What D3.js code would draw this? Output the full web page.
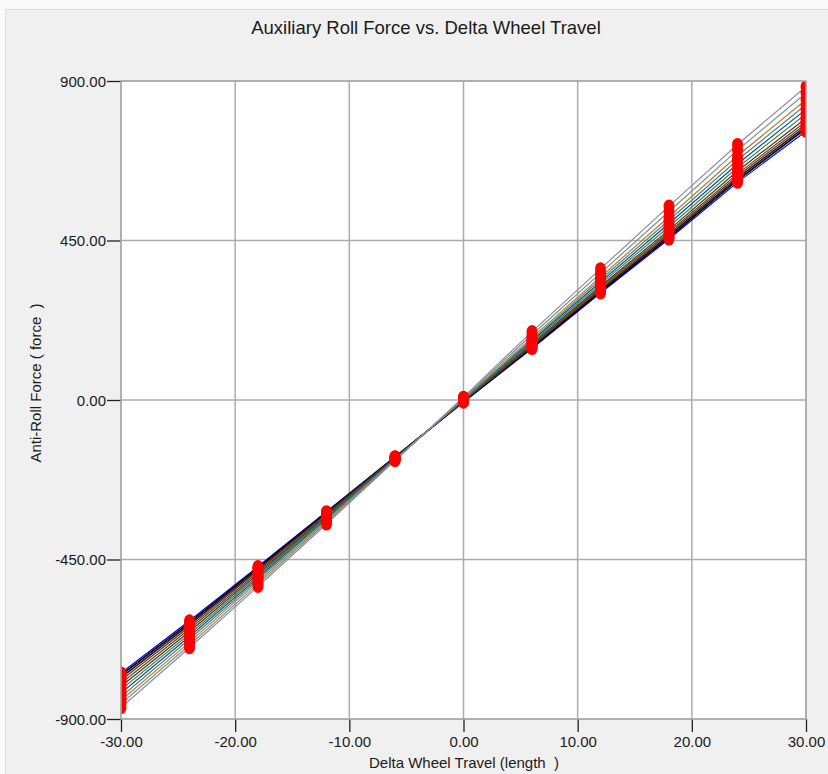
<!DOCTYPE html>
<html>
<head>
<meta charset="utf-8">
<script src="https://cdn.jsdelivr.net/npm/d3@7"></script>
<style>
  html, body { margin: 0; padding: 0; background: #fafafa; }
  svg { display: block; }
  text { font-family: "Liberation Sans", Arial, sans-serif; fill: #1a1a1a; white-space: pre; }
</style>
</head>
<body>
<svg id="chart" width="828" height="774"></svg>
<script>
// Wheel travel stations (length)
const travel = [-30, -24, -18, -12, -6, 0, 6, 12, 18, 24, 30];

// Anti-roll force (force) for each design variant, least stiff to stiffest
const force01 = [-770, -623, -470, -315, -160, -6, 145, 302, 454, 614, 758];
const force02 = [-776, -628, -473, -317, -161, -5, 148, 305, 459, 620, 766];
const force03 = [-783, -634, -477, -319, -162, -4, 150, 309, 464, 626, 772];
const force04 = [-791, -640, -481, -322, -163, -3, 153, 313, 469, 632, 779];
const force05 = [-799, -646, -486, -325, -164, -2, 156, 317, 474, 638, 786];
const force06 = [-808, -653, -491, -328, -165, -1, 159, 321, 480, 646, 795];
const force07 = [-817, -660, -496, -331, -166, 0, 163, 327, 489, 656, 807];
const force08 = [-827, -667, -501, -334, -167, 1, 167, 333, 498, 666, 820];
const force09 = [-837, -675, -506, -337, -168, 2, 171, 340, 507, 677, 833];
const force10 = [-847, -683, -512, -341, -169, 4, 176, 347, 517, 689, 847];
const force11 = [-857, -691, -519, -345, -170, 6, 184, 358, 532, 705, 866];
const force12 = [-868, -699, -526, -350, -171, 8, 193, 370, 547, 721, 884];

const allForces = [force01, force02, force03, force04, force05, force06,
                   force07, force08, force09, force10, force11, force12];

// Tick values
const xTicks = [-30, -20, -10, 0, 10, 20, 30];
const yTicks = [-900, -450, 0, 450, 900];

// Curve colours, one per variant
const palette = ["#0000ff", "#000000", "#1c1c1c", "#8b1c1c", "#1f5f2f", "#7a1a1a",
                 "#1f9a3a", "#1f3fa0", "#3c8c7c", "#d0702c", "#5f9e8e", "#9484ac"];

const svg = d3.select("#chart");
const W = 828, H = 774;
const plot = { left: 121, right: 806, top: 81, bottom: 719 };

// Window panel
svg.append("rect").attr("x", 5.5).attr("y", 9.5).attr("width", W - 5).attr("height", H - 9)
  .attr("fill", "#f0f0f0").attr("stroke", "#dcdcdc");

const x = d3.scaleLinear().domain([-30, 30]).range([plot.left, plot.right]);
const y = d3.scaleLinear().domain([-900, 900]).range([plot.bottom, plot.top]);

// Plot area
svg.append("rect").attr("x", plot.left).attr("y", plot.top)
  .attr("width", plot.right - plot.left).attr("height", plot.bottom - plot.top)
  .attr("fill", "#ffffff");

// Grid
const grid = svg.append("g").attr("stroke", "#ababab").attr("stroke-width", 1.5);
grid.selectAll("line.vx").data(xTicks).join("line")
  .attr("x1", d => x(d)).attr("x2", d => x(d))
  .attr("y1", plot.top).attr("y2", plot.bottom);
grid.selectAll("line.hy").data(yTicks).join("line")
  .attr("y1", d => y(d)).attr("y2", d => y(d))
  .attr("x1", plot.left).attr("x2", plot.right);

// Clip for curves and markers
svg.append("clipPath").attr("id", "plotClip").append("rect")
  .attr("x", plot.left).attr("y", plot.top)
  .attr("width", plot.right - plot.left).attr("height", plot.bottom - plot.top);

const body = svg.append("g").attr("clip-path", "url(#plotClip)");

const line = d3.line().x((d, i) => x(travel[i])).y(d => y(d));

body.selectAll("path.curve").data(allForces).join("path")
  .attr("class", "curve")
  .attr("d", d => line(d))
  .attr("fill", "none")
  .attr("stroke", (d, i) => palette[i])
  .attr("stroke-width", (d, i) => (i === 1 || i === 2) ? 1.6 : 1.2);

// Station markers
const markers = allForces.flatMap(s => s.map((v, i) => ({ t: travel[i], f: v })));
body.selectAll("ellipse.mk").data(markers).join("ellipse")
  .attr("class", "mk")
  .attr("cx", d => x(d.t)).attr("cy", d => y(d.f))
  .attr("rx", 5.5).attr("ry", 6.5)
  .attr("fill", "#ff0000");

// Axes (plain hyphen minus on tick labels)
const fmt = d => d.toFixed(2);
const xAxis = svg.append("g").attr("transform", `translate(0,${plot.bottom})`)
  .call(d3.axisBottom(x).tickValues(xTicks).tickFormat(fmt).tickSize(13).tickSizeOuter(0).tickPadding(4));
const yAxis = svg.append("g").attr("transform", `translate(${plot.left},0)`)
  .call(d3.axisLeft(y).tickValues(yTicks).tickFormat(fmt).tickSize(14).tickSizeOuter(0).tickPadding(1));

[xAxis, yAxis].forEach(a => {
  a.select(".domain").remove();
  a.selectAll(".tick line").attr("stroke", "#202020").attr("stroke-width", 1.3);
  a.selectAll(".tick text").attr("font-size", 15).attr("fill", "#1a1a1a")
    .attr("font-family", "'Liberation Sans', Arial, sans-serif");
});
yAxis.selectAll(".tick text").attr("dy", "0.35em");

// Plot frame
svg.append("rect").attr("x", plot.left).attr("y", plot.top)
  .attr("width", plot.right - plot.left).attr("height", plot.bottom - plot.top)
  .attr("fill", "none").attr("stroke", "#ababab").attr("stroke-width", 1.5);

// Titles
svg.append("text").attr("x", 426).attr("y", 34).attr("text-anchor", "middle")
  .attr("font-size", 18.5).text("Auxiliary Roll Force vs. Delta Wheel Travel");

svg.append("text").attr("x", 464).attr("y", 768).attr("text-anchor", "middle")
  .attr("font-size", 15).text("Delta Wheel Travel (length  )");

svg.append("text").attr("transform", "translate(41,383) rotate(-90)")
  .attr("text-anchor", "middle").attr("font-size", 15)
  .text("Anti-Roll Force ( force  )");
</script>
</body>
</html>
